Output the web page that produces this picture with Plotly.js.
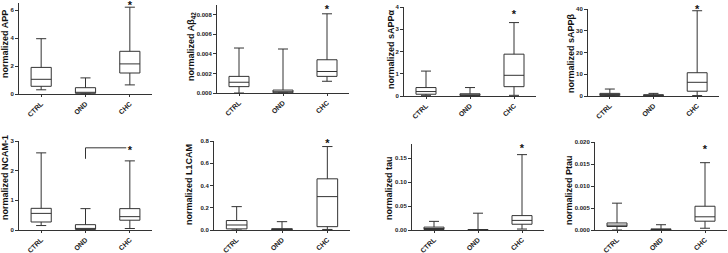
<!DOCTYPE html>
<html>
<head>
<meta charset="utf-8">
<script src="https://cdn.plot.ly/plotly-3.0.1.min.js"></script>
<style>html,body{margin:0;padding:0;background:#fff}#chart{width:728px;height:253px}</style>
</head>
<body>
<div id="chart"></div>
<script>
// categories
const groups = ["CTRL", "OND", "CHC"];

// panel titles
const titles = ["normalized APP", "normalized Aβ<sub>42</sub>", "normalized sAPPα", "normalized sAPPβ",
                "normalized NCAM-1", "normalized L1CAM", "normalized tau", "normalized Ptau"];

// box statistics per panel: [CTRL, OND, CHC]
const appMin = [0.3, 0.0, 0.65], appQ1 = [0.55, 0.05, 1.5], appMed = [1.05, 0.1, 2.15], appQ3 = [1.9, 0.45, 3.05], appMax = [3.95, 1.15, 6.2];
const abMin = [0.0, 0.0, 0.0012], abQ1 = [0.00065, 0.00003, 0.0017], abMed = [0.0011, 0.0001, 0.0022], abQ3 = [0.0017, 0.0003, 0.0034], abMax = [0.0046, 0.0045, 0.0081];
const saMin = [0.03, 0.0, 0.03], saQ1 = [0.08, 0.02, 0.42], saMed = [0.2, 0.05, 0.93], saQ3 = [0.38, 0.1, 1.88], saMax = [1.12, 0.38, 3.3];
const sbMin = [0.0, 0.0, 0.2], sbQ1 = [0.2, 0.1, 2.2], sbMed = [0.6, 0.3, 6.3], sbQ3 = [1.2, 0.6, 10.7], sbMax = [3.2, 1.2, 39.2];
const ncMin = [0.15, 0.0, 0.05], ncQ1 = [0.27, 0.02, 0.33], ncMed = [0.56, 0.05, 0.45], ncQ3 = [0.73, 0.18, 0.72], ncMax = [2.6, 0.72, 2.33];
const l1Min = [0.0, 0.0, 0.005], l1Q1 = [0.01, 0.002, 0.03], l1Med = [0.045, 0.005, 0.3], l1Q3 = [0.085, 0.012, 0.46], l1Max = [0.21, 0.075, 0.75];
const tauMin = [0.0, 0.0, 0.002], tauQ1 = [0.001, 0.0, 0.012], tauMed = [0.003, 0.0005, 0.02], tauQ3 = [0.006, 0.001, 0.03], tauMax = [0.018, 0.035, 0.157];
const ptMin = [0.0, 0.0, 0.0004], ptQ1 = [0.0008, 0.00005, 0.002], ptMed = [0.0011, 0.0001, 0.003], ptQ3 = [0.0016, 0.00025, 0.0054], ptMax = [0.0061, 0.0012, 0.0153];

// significance star anchor heights (CHC) per panel
const starY = [6.26, 0.00845, 3.64, 39.5, 2.66, 0.77, 0.168, 0.0182];
// NCAM-1 bracket: OND leg bottom, bracket top
const bracketY = [2.4, 2.77];

// y ranges and tick settings
const yRanges = [[0, 6.5], [0, 0.009], [0, 4], [0, 40], [0, 3], [0, 0.8], [0, 0.18], [0, 0.02]];
const yDtick = [2, 0.002, 1, 10, 1, 0.2, 0.05, 0.005];
const yFormat = ["", ".3f", "", "", "", ".1f", ".2f", ".3f"];

const stats = [
  [appMin, appQ1, appMed, appQ3, appMax],
  [abMin, abQ1, abMed, abQ3, abMax],
  [saMin, saQ1, saMed, saQ3, saMax],
  [sbMin, sbQ1, sbMed, sbQ3, sbMax],
  [ncMin, ncQ1, ncMed, ncQ3, ncMax],
  [l1Min, l1Q1, l1Med, l1Q3, l1Max],
  [tauMin, tauQ1, tauMed, tauQ3, tauMax],
  [ptMin, ptQ1, ptMed, ptQ3, ptMax]
];

// layout geometry in pixels
const W = 728, H = 253;
const xPix = [[19, 152], [217, 349], [404, 536], [588, 719], [19, 152], [214, 350], [412, 544], [595, 727]];
const yPix = [[3, 94], [5, 93], [7, 96], [9, 96], [141, 230], [141, 230], [143.6, 230], [142, 230]];
const titlePos = [[5, 44], [191, 47], [391, 49], [571, 53], [5, 178], [189, 185], [389, 188], [569, 190]];

const lineCol = "#333";
const fontFam = "Liberation Sans, Arial, sans-serif";

const data = [];
const layout = {
  width: W, height: H,
  margin: {l: 0, r: 0, t: 0, b: 0},
  paper_bgcolor: "#fff", plot_bgcolor: "#fff",
  showlegend: false,
  boxgap: 0.35,
  font: {family: fontFam, color: "#222"},
  annotations: [],
  shapes: []
};

stats.forEach((s, i) => {
  const n = i + 1;
  const xa = n === 1 ? "x" : "x" + n;
  const ya = n === 1 ? "y" : "y" + n;
  data.push({
    type: "box", x: groups, xaxis: xa, yaxis: ya,
    lowerfence: s[0], q1: s[1], median: s[2], q3: s[3], upperfence: s[4],
    fillcolor: "#fff", line: {color: lineCol, width: 1}, whiskerwidth: 0.5,
    boxpoints: false, hoverinfo: "skip"
  });
  // significance star above CHC
  data.push({
    type: "scatter", mode: "text", x: [groups[2]], y: [starY[i]], text: ["*"],
    textposition: "middle center", cliponaxis: false, xaxis: xa, yaxis: ya,
    textfont: {size: 11, family: fontFam, color: "#111", weight: "bold"}, hoverinfo: "skip"
  });
  const xKey = n === 1 ? "xaxis" : "xaxis" + n;
  const yKey = n === 1 ? "yaxis" : "yaxis" + n;
  layout[xKey] = {
    domain: [xPix[i][0] / W, xPix[i][1] / W], anchor: ya,
    type: "category", range: [-0.5, 2.5], showgrid: false, zeroline: false,
    showline: true, linecolor: lineCol, linewidth: 1,
    ticks: "outside", ticklen: 2, tickcolor: lineCol, tickangle: -45,
    tickfont: {size: 7, family: fontFam, color: "#222", weight: "bold"}, fixedrange: true
  };
  layout[yKey] = {
    domain: [1 - yPix[i][1] / H, 1 - yPix[i][0] / H], anchor: xa,
    range: yRanges[i], dtick: yDtick[i], tick0: 0, tickformat: yFormat[i],
    showgrid: false, zeroline: false, showline: true, linecolor: lineCol, linewidth: 1,
    ticks: "outside", ticklen: 3, tickcolor: lineCol,
    tickfont: {size: 6, family: fontFam, color: "#222", weight: "bold"}, fixedrange: true
  };
  layout.annotations.push({
    text: titles[i], xref: "paper", yref: "paper",
    x: titlePos[i][0] / W, y: 1 - titlePos[i][1] / H,
    xanchor: "center", yanchor: "middle", textangle: -90, showarrow: false,
    font: {size: 9, family: fontFam, color: "#111", weight: "bold"}
  });
});

// NCAM-1 bracket from OND to CHC
layout.shapes.push({
  type: "path", xref: "x5", yref: "y5",
  path: "M 1," + bracketY[0] + " L 1," + bracketY[1] + " L 1.92," + bracketY[1],
  line: {color: lineCol, width: 1}
});

Plotly.newPlot("chart", data, layout, {staticPlot: true, displayModeBar: false});
</script>
</body>
</html>
